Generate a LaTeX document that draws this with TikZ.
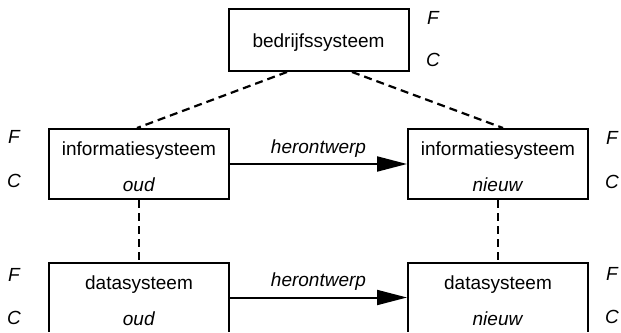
\documentclass[tikz,border=0pt]{standalone}
\usepackage{fontspec}
\setmainfont{Liberation Sans}
\usetikzlibrary{arrows.meta,positioning}
\newcommand{\boxstrut}[1]{\rule{0pt}{#1}}
\tikzset{
sysbox/.style={
  draw,
  rectangle,
  line width=1pt,
  minimum width=90pt,
  minimum height=35pt,
  inner sep=0pt,
  align=center,
  font=\fontsize{9.5}{18}\selectfont
  },
fclabel/.style={
  inner sep=0pt,
  font=\fontsize{9.5}{11}\selectfont\itshape
  },
link/.style={line width=1.1pt, dash pattern=on 4pt off 2.5pt},
redesign/.style={line width=1pt, -{Triangle[length=15pt,width=7.5pt]}}
}

\begin{document}
\begin{tikzpicture}[x=0.5pt,y=-0.5pt]
\useasboundingbox (0,0) rectangle (621,332);
\clip (0,0) rectangle (621,331);

% boxes
\node[sysbox, minimum height=31pt] (bedrijf) at (318.5,40) {\boxstrut{9pt}bedrijfssysteem};
\node[sysbox] (infoOud) at (139,164) {\boxstrut{10pt}informatiesysteem\\\textit{oud}};
\node[sysbox] (infoNieuw) at (498,164) {\boxstrut{10pt}informatiesysteem\\\textit{nieuw}};
\node[sysbox] (dataOud) at (139,297.5) {\boxstrut{10pt}datasysteem\\\textit{oud}};
\node[sysbox] (dataNieuw) at (498,297.5) {\boxstrut{10pt}datasysteem\\\textit{nieuw}};

% F and C
\node[fclabel] (bedrijfF) at (433,18) {F};
\node[fclabel] (bedrijfC) at (433,60) {C};
\node[fclabel] (infoOudF) at (14,137) {F};
\node[fclabel] (infoOudC) at (14,181) {C};
\node[fclabel] (infoNieuwF) at (612,138) {F};
\node[fclabel] (infoNieuwC) at (612,182) {C};
\node[fclabel] (dataOudF) at (14,275) {F};
\node[fclabel] (dataOudC) at (14,318) {C};
\node[fclabel] (dataNieuwF) at (612,274) {F};
\node[fclabel] (dataNieuwC) at (612,317) {C};

\begin{scope}
\coordinate(start) at([xshift=-15.75pt]bedrijf.south);
\coordinate(end) at([xshift=-1pt]infoOud.north);
\coordinate(start2) at([xshift=16.75pt]bedrijf.south);
\coordinate(end2) at([xshift=2.5pt]infoNieuw.north);

\draw[link] (start) -- (end);
\draw[link] (start2) -- (end2);
\end{scope}

\draw[link] (infoOud.south) -- (dataOud.north);
\draw[link] (infoNieuw.south) -- (dataNieuw.north);

\draw[redesign] (infoOud.east) -- node[fclabel, above=3pt] (herontwerp1) {herontwerp} (infoNieuw.west);
\draw[redesign] (dataOud.east) -- node[fclabel, above=3pt] (herontwerp2) {herontwerp} (dataNieuw.west);

\end{tikzpicture}
\end{document}
